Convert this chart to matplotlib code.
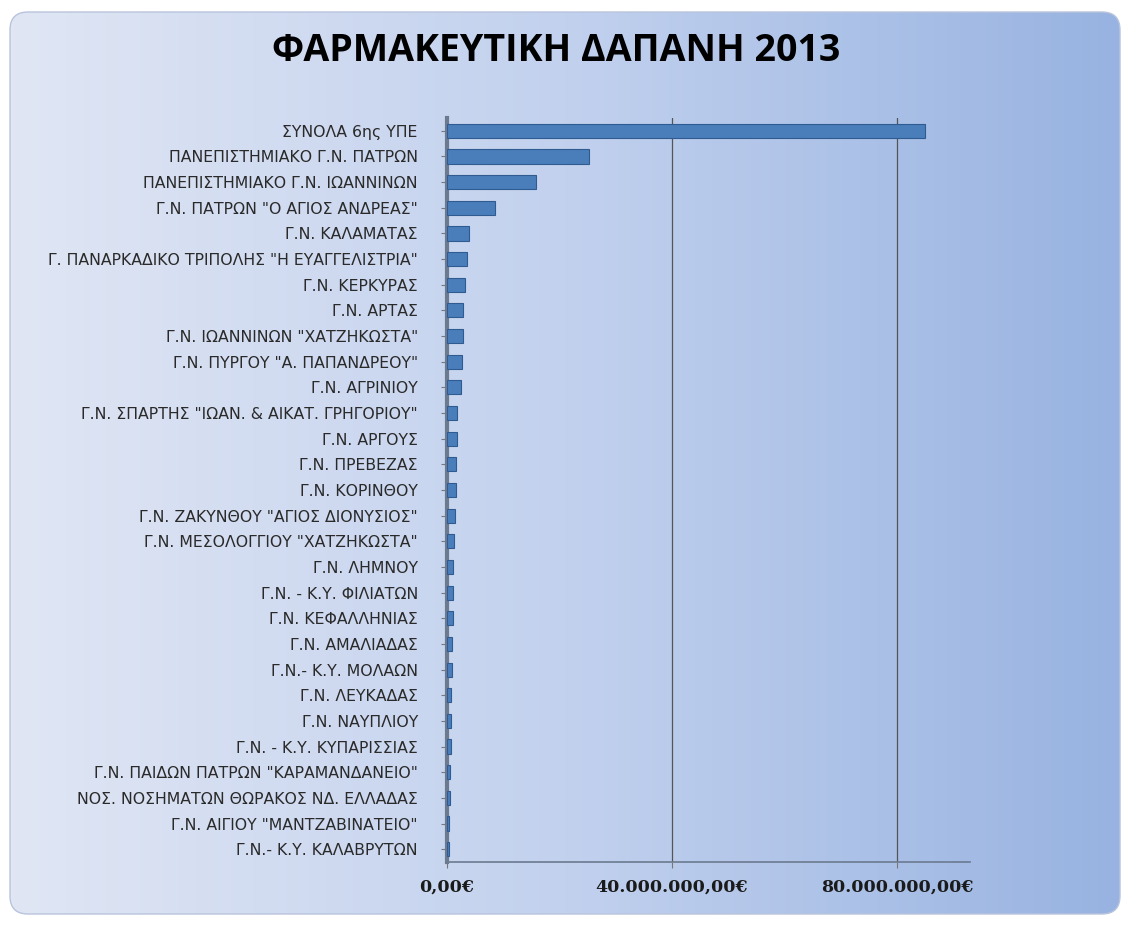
import matplotlib
matplotlib.use("Agg")
import matplotlib.pyplot as plt
import numpy as np
from matplotlib.patches import FancyBboxPatch
from matplotlib.ticker import FuncFormatter
from matplotlib.colors import LinearSegmentedColormap

categories = [
    'ΣΥΝΟΛΑ 6ης ΥΠΕ',
    'ΠΑΝΕΠΙΣΤΗΜΙΑΚΟ Γ.Ν. ΠΑΤΡΩΝ',
    'ΠΑΝΕΠΙΣΤΗΜΙΑΚΟ Γ.Ν. ΙΩΑΝΝΙΝΩΝ',
    'Γ.Ν. ΠΑΤΡΩΝ "Ο ΑΓΙΟΣ ΑΝΔΡΕΑΣ"',
    'Γ.Ν. ΚΑΛΑΜΑΤΑΣ',
    'Γ. ΠΑΝΑΡΚΑΔΙΚΟ ΤΡΙΠΟΛΗΣ "Η ΕΥΑΓΓΕΛΙΣΤΡΙΑ"',
    'Γ.Ν. ΚΕΡΚΥΡΑΣ',
    'Γ.Ν. ΑΡΤΑΣ',
    'Γ.Ν. ΙΩΑΝΝΙΝΩΝ "ΧΑΤΖΗΚΩΣΤΑ"',
    'Γ.Ν. ΠΥΡΓΟΥ "Α. ΠΑΠΑΝΔΡΕΟΥ"',
    'Γ.Ν. ΑΓΡΙΝΙΟΥ',
    'Γ.Ν. ΣΠΑΡΤΗΣ "ΙΩΑΝ. & ΑΙΚΑΤ. ΓΡΗΓΟΡΙΟΥ"',
    'Γ.Ν. ΑΡΓΟΥΣ',
    'Γ.Ν. ΠΡΕΒΕΖΑΣ',
    'Γ.Ν. ΚΟΡΙΝΘΟΥ',
    'Γ.Ν. ΖΑΚΥΝΘΟΥ "ΑΓΙΟΣ ΔΙΟΝΥΣΙΟΣ"',
    'Γ.Ν. ΜΕΣΟΛΟΓΓΙΟΥ "ΧΑΤΖΗΚΩΣΤΑ"',
    'Γ.Ν. ΛΗΜΝΟΥ',
    'Γ.Ν. - Κ.Υ. ΦΙΛΙΑΤΩΝ',
    'Γ.Ν. ΚΕΦΑΛΛΗΝΙΑΣ',
    'Γ.Ν. ΑΜΑΛΙΑΔΑΣ',
    'Γ.Ν.- Κ.Υ. ΜΟΛΑΩΝ',
    'Γ.Ν. ΛΕΥΚΑΔΑΣ',
    'Γ.Ν. ΝΑΥΠΛΙΟΥ',
    'Γ.Ν. - Κ.Υ. ΚΥΠΑΡΙΣΣΙΑΣ',
    'Γ.Ν. ΠΑΙΔΩΝ ΠΑΤΡΩΝ "ΚΑΡΑΜΑΝΔΑΝΕΙΟ"',
    'ΝΟΣ. ΝΟΣΗΜΑΤΩΝ ΘΩΡΑΚΟΣ ΝΔ. ΕΛΛΑΔΑΣ',
    'Γ.Ν. ΑΙΓΙΟΥ "ΜΑΝΤΖΑΒΙΝΑΤΕΙΟ"',
    'Γ.Ν.- Κ.Υ. ΚΑΛΑΒΡΥΤΩΝ',
]
values = [85.0e6, 25.2e6, 15.9e6, 8.6e6, 4.0e6, 3.6e6, 3.2e6, 2.9e6, 2.9e6,
          2.7e6, 2.5e6, 1.8e6, 1.8e6, 1.6e6, 1.6e6, 1.5e6, 1.3e6, 1.1e6,
          1.1e6, 1.0e6, 0.95e6, 0.9e6, 0.8e6, 0.75e6, 0.7e6, 0.6e6, 0.5e6,
          0.4e6, 0.3e6]
xticks = [0, 40e6, 80e6]
title = 'ΦΑΡΜΑΚΕΥΤΙΚΗ ΔΑΠΑΝΗ 2013'

W, H = 1128, 926
fig = plt.figure(figsize=(W/100, H/100), dpi=100)
fig.patch.set_facecolor('white')

# background rounded gradient panel
bg = fig.add_axes([0, 0, 1, 1])
bg.set_xlim(0, W); bg.set_ylim(H, 0); bg.axis('off')
grad = np.linspace(0, 1, 256)[None, :]
cmap = LinearSegmentedColormap.from_list('g', ['#e0e6f4', '#c2d1ee', '#98b3e1'])
panel = FancyBboxPatch((10, 12), W - 18, H - 24, boxstyle='round,pad=0,rounding_size=18',
                       facecolor='none', edgecolor='#b8c4dc', lw=1.0)
bg.add_patch(panel)
im = bg.imshow(grad, cmap=cmap, extent=[10, W - 8, H - 12, 12], aspect='auto')
im.set_clip_path(panel)

fig.text(556/W, 1 - 51/H, title, ha='center', va='center', fontsize=27,
         fontweight='bold', family='Open Sans', color='black')

ax = fig.add_axes([447/W, 1 - 862/H, (970 - 447)/W, (862 - 118)/H])
ax.set_facecolor('none')
y = np.arange(len(categories))
ax.barh(y, values, height=0.55, color='#4a7ebb', edgecolor='#2f5b91', linewidth=0.8, zorder=3)
ax.set_ylim(len(categories) - 0.5, -0.5)
ax.set_xlim(0, 93e6)
ax.set_yticks(y)
ax.set_yticklabels(categories, fontsize=11.3, color='#2a2a2a', family='DejaVu Sans')
ax.set_xticks(xticks)
ax.xaxis.set_major_formatter(FuncFormatter(
    lambda v, p: ('{:,.2f}€'.format(v)).replace(',', 'X').replace('.', ',').replace('X', '.')))
for lab in ax.get_xticklabels():
    lab.set_fontsize(12.5)
    lab.set_fontweight('bold')
    lab.set_family('DejaVu Serif')
    lab.set_color('#1a1a1a')
ax.tick_params(axis='y', length=4, pad=17, color='#777777')
ax.tick_params(axis='x', length=4, pad=8, color='#777777')
ax.grid(axis='x', color='#555555', linewidth=0.9, zorder=0)
for s in ['top', 'right']:
    ax.spines[s].set_visible(False)
ax.spines['left'].set_color('#6b7a8f')
ax.spines['left'].set_linewidth(3)
ax.spines['bottom'].set_color('#6b7a8f')
ax.spines['bottom'].set_linewidth(1.2)

fig.savefig('out.png', dpi=100, facecolor='white')
